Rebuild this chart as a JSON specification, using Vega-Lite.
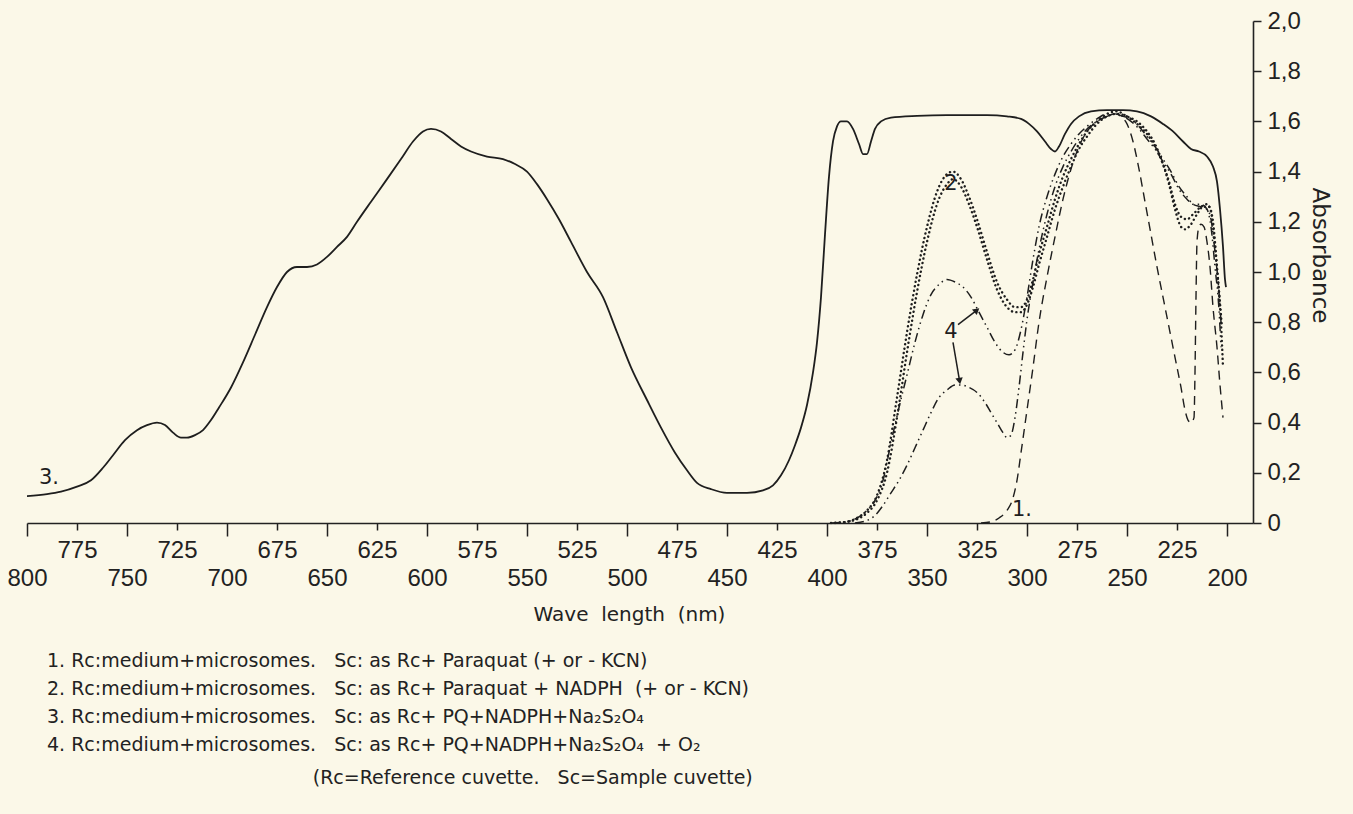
{
  "$schema": "https://vega.github.io/schema/vega-lite/v6.json",
  "width": 1226,
  "height": 502,
  "autosize": {"type": "none"},
  "padding": {"left": 27, "top": 21, "right": 100, "bottom": 291},
  "background": "#fbf8e8",
  "config": {
    "view": {"stroke": null},
    "font": "Liberation Sans, DejaVu Sans, sans-serif",
    "text": {"font": "Liberation Sans, DejaVu Sans, sans-serif"}
  },
  "title": {
    "text": [
      "1. Rc:medium+microsomes.\u00a0\u00a0 Sc: as Rc+ Paraquat (+ or - KCN)",
      "2. Rc:medium+microsomes.\u00a0\u00a0 Sc: as Rc+ Paraquat + NADPH\u00a0 (+ or - KCN)",
      "3. Rc:medium+microsomes.\u00a0\u00a0 Sc: as Rc+ PQ+NADPH+Na\u2082S\u2082O\u2084",
      "4. Rc:medium+microsomes.\u00a0\u00a0 Sc: as Rc+ PQ+NADPH+Na\u2082S\u2082O\u2084\u00a0 + O\u2082"
    ],
    "subtitle": "\u200b\u00a0\u00a0\u00a0\u00a0\u00a0\u00a0\u00a0\u00a0\u00a0\u00a0\u00a0\u00a0\u00a0\u00a0\u00a0\u00a0\u00a0\u00a0\u00a0\u00a0\u00a0\u00a0\u00a0\u00a0\u00a0\u00a0\u00a0\u00a0\u00a0\u00a0\u00a0\u00a0\u00a0\u00a0\u00a0\u00a0\u00a0\u00a0\u00a0\u00a0\u00a0\u00a0\u00a0\u00a0(Rc=Reference cuvette.\u00a0\u00a0 Sc=Sample cuvette)",
    "orient": "bottom",
    "anchor": "start",
    "frame": "group",
    "align": "left",
    "dx": 20,
    "offset": 28,
    "font": "DejaVu Sans, Liberation Sans, sans-serif",
    "fontSize": 19,
    "fontWeight": "normal",
    "color": "#222222",
    "lineHeight": 28,
    "subtitleFont": "DejaVu Sans, Liberation Sans, sans-serif",
    "subtitleFontSize": 19,
    "subtitleColor": "#222222",
    "subtitlePadding": 14
  },
  "datasets": {
    "curves": [
      {"s": "3", "nm": 800, "a": 0.107}, {"s": "3", "nm": 790, "a": 0.115}, {"s": "3", "nm": 783, "a": 0.125},
      {"s": "3", "nm": 775, "a": 0.145}, {"s": "3", "nm": 768, "a": 0.17}, {"s": "3", "nm": 762, "a": 0.22},
      {"s": "3", "nm": 757, "a": 0.27}, {"s": "3", "nm": 751, "a": 0.33}, {"s": "3", "nm": 745, "a": 0.37},
      {"s": "3", "nm": 740, "a": 0.39}, {"s": "3", "nm": 735, "a": 0.4}, {"s": "3", "nm": 731, "a": 0.39},
      {"s": "3", "nm": 727, "a": 0.36}, {"s": "3", "nm": 723, "a": 0.34}, {"s": "3", "nm": 720, "a": 0.34},
      {"s": "3", "nm": 716, "a": 0.35}, {"s": "3", "nm": 712, "a": 0.37}, {"s": "3", "nm": 708, "a": 0.41},
      {"s": "3", "nm": 704, "a": 0.46}, {"s": "3", "nm": 698, "a": 0.54}, {"s": "3", "nm": 692, "a": 0.64},
      {"s": "3", "nm": 686, "a": 0.75}, {"s": "3", "nm": 680, "a": 0.86}, {"s": "3", "nm": 675, "a": 0.94},
      {"s": "3", "nm": 670, "a": 1.0}, {"s": "3", "nm": 665, "a": 1.02}, {"s": "3", "nm": 660, "a": 1.02},
      {"s": "3", "nm": 655, "a": 1.03}, {"s": "3", "nm": 650, "a": 1.06}, {"s": "3", "nm": 645, "a": 1.1},
      {"s": "3", "nm": 640, "a": 1.14}, {"s": "3", "nm": 635, "a": 1.2}, {"s": "3", "nm": 628, "a": 1.28},
      {"s": "3", "nm": 620, "a": 1.37}, {"s": "3", "nm": 613, "a": 1.45}, {"s": "3", "nm": 607, "a": 1.52},
      {"s": "3", "nm": 602, "a": 1.56}, {"s": "3", "nm": 598, "a": 1.57}, {"s": "3", "nm": 593, "a": 1.56},
      {"s": "3", "nm": 588, "a": 1.53}, {"s": "3", "nm": 583, "a": 1.5}, {"s": "3", "nm": 578, "a": 1.48},
      {"s": "3", "nm": 570, "a": 1.46}, {"s": "3", "nm": 562, "a": 1.45}, {"s": "3", "nm": 556, "a": 1.43},
      {"s": "3", "nm": 550, "a": 1.4}, {"s": "3", "nm": 545, "a": 1.35}, {"s": "3", "nm": 540, "a": 1.29},
      {"s": "3", "nm": 534, "a": 1.21}, {"s": "3", "nm": 528, "a": 1.12}, {"s": "3", "nm": 520, "a": 1.0},
      {"s": "3", "nm": 512, "a": 0.9}, {"s": "3", "nm": 505, "a": 0.76}, {"s": "3", "nm": 498, "a": 0.62},
      {"s": "3", "nm": 490, "a": 0.49}, {"s": "3", "nm": 483, "a": 0.38}, {"s": "3", "nm": 476, "a": 0.28},
      {"s": "3", "nm": 470, "a": 0.21}, {"s": "3", "nm": 465, "a": 0.16}, {"s": "3", "nm": 458, "a": 0.135},
      {"s": "3", "nm": 450, "a": 0.12}, {"s": "3", "nm": 440, "a": 0.12}, {"s": "3", "nm": 432, "a": 0.13},
      {"s": "3", "nm": 427, "a": 0.15}, {"s": "3", "nm": 423, "a": 0.19}, {"s": "3", "nm": 419, "a": 0.25},
      {"s": "3", "nm": 416, "a": 0.31}, {"s": "3", "nm": 413, "a": 0.38}, {"s": "3", "nm": 410, "a": 0.47},
      {"s": "3", "nm": 407, "a": 0.6}, {"s": "3", "nm": 405, "a": 0.72}, {"s": "3", "nm": 403, "a": 0.9},
      {"s": "3", "nm": 401, "a": 1.15}, {"s": "3", "nm": 399, "a": 1.38}, {"s": "3", "nm": 397, "a": 1.52},
      {"s": "3", "nm": 395, "a": 1.58}, {"s": "3", "nm": 393, "a": 1.6}, {"s": "3", "nm": 390, "a": 1.6},
      {"s": "3", "nm": 387, "a": 1.57}, {"s": "3", "nm": 384, "a": 1.51}, {"s": "3", "nm": 382, "a": 1.47},
      {"s": "3", "nm": 380, "a": 1.47}, {"s": "3", "nm": 378, "a": 1.52}, {"s": "3", "nm": 376, "a": 1.57},
      {"s": "3", "nm": 373, "a": 1.6}, {"s": "3", "nm": 368, "a": 1.615}, {"s": "3", "nm": 355, "a": 1.622},
      {"s": "3", "nm": 340, "a": 1.625}, {"s": "3", "nm": 320, "a": 1.625}, {"s": "3", "nm": 310, "a": 1.62},
      {"s": "3", "nm": 303, "a": 1.61}, {"s": "3", "nm": 299, "a": 1.59}, {"s": "3", "nm": 295, "a": 1.56},
      {"s": "3", "nm": 291, "a": 1.52}, {"s": "3", "nm": 288, "a": 1.49}, {"s": "3", "nm": 286, "a": 1.48},
      {"s": "3", "nm": 284, "a": 1.5}, {"s": "3", "nm": 281, "a": 1.55}, {"s": "3", "nm": 278, "a": 1.59},
      {"s": "3", "nm": 274, "a": 1.62}, {"s": "3", "nm": 268, "a": 1.64}, {"s": "3", "nm": 260, "a": 1.645},
      {"s": "3", "nm": 252, "a": 1.645}, {"s": "3", "nm": 245, "a": 1.64}, {"s": "3", "nm": 238, "a": 1.62},
      {"s": "3", "nm": 232, "a": 1.59}, {"s": "3", "nm": 227, "a": 1.56}, {"s": "3", "nm": 222, "a": 1.52},
      {"s": "3", "nm": 218, "a": 1.49}, {"s": "3", "nm": 214, "a": 1.48}, {"s": "3", "nm": 210, "a": 1.46},
      {"s": "3", "nm": 207, "a": 1.42}, {"s": "3", "nm": 205, "a": 1.36}, {"s": "3", "nm": 203.5, "a": 1.25},
      {"s": "3", "nm": 202, "a": 1.1}, {"s": "3", "nm": 201, "a": 0.97}, {"s": "3", "nm": 200.5, "a": 0.94},

      {"s": "1", "nm": 323, "a": 0.0}, {"s": "1", "nm": 318, "a": 0.005}, {"s": "1", "nm": 314, "a": 0.02},
      {"s": "1", "nm": 310, "a": 0.05}, {"s": "1", "nm": 307, "a": 0.1}, {"s": "1", "nm": 305, "a": 0.17},
      {"s": "1", "nm": 303, "a": 0.28}, {"s": "1", "nm": 300, "a": 0.45}, {"s": "1", "nm": 297, "a": 0.62},
      {"s": "1", "nm": 294, "a": 0.8}, {"s": "1", "nm": 290, "a": 0.98}, {"s": "1", "nm": 286, "a": 1.14},
      {"s": "1", "nm": 282, "a": 1.29}, {"s": "1", "nm": 278, "a": 1.41}, {"s": "1", "nm": 274, "a": 1.5},
      {"s": "1", "nm": 270, "a": 1.56}, {"s": "1", "nm": 265, "a": 1.6}, {"s": "1", "nm": 260, "a": 1.62},
      {"s": "1", "nm": 256, "a": 1.63}, {"s": "1", "nm": 253, "a": 1.62}, {"s": "1", "nm": 250, "a": 1.59},
      {"s": "1", "nm": 247, "a": 1.52}, {"s": "1", "nm": 244, "a": 1.41}, {"s": "1", "nm": 241, "a": 1.28},
      {"s": "1", "nm": 238, "a": 1.15}, {"s": "1", "nm": 235, "a": 1.02}, {"s": "1", "nm": 232, "a": 0.9},
      {"s": "1", "nm": 229, "a": 0.78}, {"s": "1", "nm": 226, "a": 0.66}, {"s": "1", "nm": 223, "a": 0.54},
      {"s": "1", "nm": 221, "a": 0.45}, {"s": "1", "nm": 219.5, "a": 0.41}, {"s": "1", "nm": 218, "a": 0.4},
      {"s": "1", "nm": 216.5, "a": 0.42}, {"s": "1", "nm": 216, "a": 0.6}, {"s": "1", "nm": 215.5, "a": 0.9},
      {"s": "1", "nm": 215, "a": 1.12}, {"s": "1", "nm": 214, "a": 1.18}, {"s": "1", "nm": 213, "a": 1.19},
      {"s": "1", "nm": 211.5, "a": 1.18}, {"s": "1", "nm": 210, "a": 1.12}, {"s": "1", "nm": 208.5, "a": 1.02},
      {"s": "1", "nm": 207, "a": 0.86}, {"s": "1", "nm": 205, "a": 0.7}, {"s": "1", "nm": 203.5, "a": 0.55},
      {"s": "1", "nm": 202, "a": 0.42},

      {"s": "2a", "nm": 398, "a": 0.0}, {"s": "2a", "nm": 390, "a": 0.005}, {"s": "2a", "nm": 385, "a": 0.02},
      {"s": "2a", "nm": 380, "a": 0.05}, {"s": "2a", "nm": 375, "a": 0.11}, {"s": "2a", "nm": 370, "a": 0.25},
      {"s": "2a", "nm": 365, "a": 0.5}, {"s": "2a", "nm": 360, "a": 0.76}, {"s": "2a", "nm": 355, "a": 0.99},
      {"s": "2a", "nm": 350, "a": 1.18}, {"s": "2a", "nm": 345, "a": 1.32}, {"s": "2a", "nm": 340, "a": 1.39},
      {"s": "2a", "nm": 337, "a": 1.4}, {"s": "2a", "nm": 333, "a": 1.37}, {"s": "2a", "nm": 329, "a": 1.3},
      {"s": "2a", "nm": 325, "a": 1.21}, {"s": "2a", "nm": 320, "a": 1.08}, {"s": "2a", "nm": 315, "a": 0.96},
      {"s": "2a", "nm": 310, "a": 0.89}, {"s": "2a", "nm": 306, "a": 0.86}, {"s": "2a", "nm": 303, "a": 0.86},
      {"s": "2a", "nm": 300, "a": 0.89}, {"s": "2a", "nm": 297, "a": 0.97}, {"s": "2a", "nm": 294, "a": 1.07},
      {"s": "2a", "nm": 290, "a": 1.18}, {"s": "2a", "nm": 286, "a": 1.29}, {"s": "2a", "nm": 282, "a": 1.38},
      {"s": "2a", "nm": 278, "a": 1.45}, {"s": "2a", "nm": 274, "a": 1.51}, {"s": "2a", "nm": 270, "a": 1.56},
      {"s": "2a", "nm": 265, "a": 1.6}, {"s": "2a", "nm": 260, "a": 1.63}, {"s": "2a", "nm": 255, "a": 1.64},
      {"s": "2a", "nm": 250, "a": 1.62}, {"s": "2a", "nm": 245, "a": 1.6}, {"s": "2a", "nm": 240, "a": 1.56},
      {"s": "2a", "nm": 236, "a": 1.51}, {"s": "2a", "nm": 232, "a": 1.43}, {"s": "2a", "nm": 229, "a": 1.35},
      {"s": "2a", "nm": 226, "a": 1.25}, {"s": "2a", "nm": 223, "a": 1.18}, {"s": "2a", "nm": 221, "a": 1.17},
      {"s": "2a", "nm": 218, "a": 1.19}, {"s": "2a", "nm": 215, "a": 1.23}, {"s": "2a", "nm": 212, "a": 1.26},
      {"s": "2a", "nm": 209, "a": 1.26}, {"s": "2a", "nm": 207, "a": 1.2}, {"s": "2a", "nm": 205, "a": 1.02},
      {"s": "2a", "nm": 203, "a": 0.8}, {"s": "2a", "nm": 202, "a": 0.62},

      {"s": "2b", "nm": 396, "a": 0.0}, {"s": "2b", "nm": 390, "a": 0.005}, {"s": "2b", "nm": 385, "a": 0.015},
      {"s": "2b", "nm": 380, "a": 0.04}, {"s": "2b", "nm": 375, "a": 0.09}, {"s": "2b", "nm": 370, "a": 0.2},
      {"s": "2b", "nm": 365, "a": 0.42}, {"s": "2b", "nm": 360, "a": 0.68}, {"s": "2b", "nm": 355, "a": 0.92},
      {"s": "2b", "nm": 350, "a": 1.12}, {"s": "2b", "nm": 345, "a": 1.27}, {"s": "2b", "nm": 340, "a": 1.35},
      {"s": "2b", "nm": 337, "a": 1.37}, {"s": "2b", "nm": 333, "a": 1.34}, {"s": "2b", "nm": 329, "a": 1.27},
      {"s": "2b", "nm": 325, "a": 1.18}, {"s": "2b", "nm": 320, "a": 1.05}, {"s": "2b", "nm": 315, "a": 0.93},
      {"s": "2b", "nm": 310, "a": 0.86}, {"s": "2b", "nm": 306, "a": 0.84}, {"s": "2b", "nm": 303, "a": 0.84},
      {"s": "2b", "nm": 300, "a": 0.87}, {"s": "2b", "nm": 297, "a": 0.94}, {"s": "2b", "nm": 294, "a": 1.03},
      {"s": "2b", "nm": 290, "a": 1.14}, {"s": "2b", "nm": 286, "a": 1.25}, {"s": "2b", "nm": 282, "a": 1.34},
      {"s": "2b", "nm": 278, "a": 1.42}, {"s": "2b", "nm": 274, "a": 1.49}, {"s": "2b", "nm": 270, "a": 1.54},
      {"s": "2b", "nm": 265, "a": 1.59}, {"s": "2b", "nm": 260, "a": 1.62}, {"s": "2b", "nm": 255, "a": 1.63},
      {"s": "2b", "nm": 250, "a": 1.62}, {"s": "2b", "nm": 245, "a": 1.59}, {"s": "2b", "nm": 240, "a": 1.55},
      {"s": "2b", "nm": 236, "a": 1.5}, {"s": "2b", "nm": 232, "a": 1.43}, {"s": "2b", "nm": 229, "a": 1.36},
      {"s": "2b", "nm": 226, "a": 1.27}, {"s": "2b", "nm": 223, "a": 1.22}, {"s": "2b", "nm": 220, "a": 1.21},
      {"s": "2b", "nm": 217, "a": 1.23}, {"s": "2b", "nm": 213, "a": 1.26}, {"s": "2b", "nm": 210, "a": 1.27},
      {"s": "2b", "nm": 208, "a": 1.24}, {"s": "2b", "nm": 206, "a": 1.1}, {"s": "2b", "nm": 204, "a": 0.92},
      {"s": "2b", "nm": 202.5, "a": 0.78},

      {"s": "4a", "nm": 398, "a": 0.0}, {"s": "4a", "nm": 390, "a": 0.005}, {"s": "4a", "nm": 385, "a": 0.02},
      {"s": "4a", "nm": 380, "a": 0.05}, {"s": "4a", "nm": 376, "a": 0.09}, {"s": "4a", "nm": 372, "a": 0.17},
      {"s": "4a", "nm": 368, "a": 0.32}, {"s": "4a", "nm": 364, "a": 0.46}, {"s": "4a", "nm": 360, "a": 0.59},
      {"s": "4a", "nm": 356, "a": 0.72}, {"s": "4a", "nm": 352, "a": 0.83}, {"s": "4a", "nm": 348, "a": 0.91},
      {"s": "4a", "nm": 344, "a": 0.95}, {"s": "4a", "nm": 340, "a": 0.97}, {"s": "4a", "nm": 336, "a": 0.96},
      {"s": "4a", "nm": 332, "a": 0.94}, {"s": "4a", "nm": 328, "a": 0.9}, {"s": "4a", "nm": 324, "a": 0.84},
      {"s": "4a", "nm": 320, "a": 0.78}, {"s": "4a", "nm": 316, "a": 0.72}, {"s": "4a", "nm": 312, "a": 0.68},
      {"s": "4a", "nm": 309, "a": 0.67}, {"s": "4a", "nm": 306, "a": 0.69}, {"s": "4a", "nm": 303, "a": 0.77},
      {"s": "4a", "nm": 300, "a": 0.9}, {"s": "4a", "nm": 297, "a": 1.05}, {"s": "4a", "nm": 294, "a": 1.18},
      {"s": "4a", "nm": 290, "a": 1.3}, {"s": "4a", "nm": 286, "a": 1.39}, {"s": "4a", "nm": 282, "a": 1.46},
      {"s": "4a", "nm": 278, "a": 1.51}, {"s": "4a", "nm": 274, "a": 1.55}, {"s": "4a", "nm": 270, "a": 1.58},
      {"s": "4a", "nm": 265, "a": 1.61}, {"s": "4a", "nm": 260, "a": 1.63}, {"s": "4a", "nm": 256, "a": 1.63},
      {"s": "4a", "nm": 252, "a": 1.62}, {"s": "4a", "nm": 248, "a": 1.61}, {"s": "4a", "nm": 244, "a": 1.58},
      {"s": "4a", "nm": 240, "a": 1.54}, {"s": "4a", "nm": 236, "a": 1.5}, {"s": "4a", "nm": 232, "a": 1.45},
      {"s": "4a", "nm": 228, "a": 1.4}, {"s": "4a", "nm": 224, "a": 1.34}, {"s": "4a", "nm": 220, "a": 1.3},
      {"s": "4a", "nm": 217, "a": 1.27}, {"s": "4a", "nm": 213, "a": 1.26}, {"s": "4a", "nm": 210, "a": 1.25},
      {"s": "4a", "nm": 208, "a": 1.21}, {"s": "4a", "nm": 206, "a": 1.08}, {"s": "4a", "nm": 204, "a": 0.92},
      {"s": "4a", "nm": 203, "a": 0.8},

      {"s": "4b", "nm": 386, "a": 0.0}, {"s": "4b", "nm": 380, "a": 0.01}, {"s": "4b", "nm": 376, "a": 0.03},
      {"s": "4b", "nm": 372, "a": 0.07}, {"s": "4b", "nm": 368, "a": 0.12}, {"s": "4b", "nm": 364, "a": 0.17},
      {"s": "4b", "nm": 360, "a": 0.23}, {"s": "4b", "nm": 356, "a": 0.3}, {"s": "4b", "nm": 352, "a": 0.37},
      {"s": "4b", "nm": 348, "a": 0.44}, {"s": "4b", "nm": 344, "a": 0.5}, {"s": "4b", "nm": 340, "a": 0.53},
      {"s": "4b", "nm": 336, "a": 0.55}, {"s": "4b", "nm": 333, "a": 0.55}, {"s": "4b", "nm": 329, "a": 0.54},
      {"s": "4b", "nm": 325, "a": 0.52}, {"s": "4b", "nm": 321, "a": 0.48}, {"s": "4b", "nm": 318, "a": 0.44},
      {"s": "4b", "nm": 315, "a": 0.4}, {"s": "4b", "nm": 312, "a": 0.36}, {"s": "4b", "nm": 310, "a": 0.34},
      {"s": "4b", "nm": 308, "a": 0.35}, {"s": "4b", "nm": 306, "a": 0.42}, {"s": "4b", "nm": 304, "a": 0.54},
      {"s": "4b", "nm": 302, "a": 0.68}, {"s": "4b", "nm": 300, "a": 0.81}, {"s": "4b", "nm": 297, "a": 0.96},
      {"s": "4b", "nm": 294, "a": 1.09}, {"s": "4b", "nm": 290, "a": 1.23}, {"s": "4b", "nm": 286, "a": 1.34},
      {"s": "4b", "nm": 282, "a": 1.42}, {"s": "4b", "nm": 278, "a": 1.48}, {"s": "4b", "nm": 274, "a": 1.53},
      {"s": "4b", "nm": 270, "a": 1.57}, {"s": "4b", "nm": 265, "a": 1.6}, {"s": "4b", "nm": 260, "a": 1.62},
      {"s": "4b", "nm": 256, "a": 1.63}, {"s": "4b", "nm": 252, "a": 1.62}, {"s": "4b", "nm": 248, "a": 1.6},
      {"s": "4b", "nm": 244, "a": 1.57}, {"s": "4b", "nm": 240, "a": 1.53}, {"s": "4b", "nm": 236, "a": 1.49},
      {"s": "4b", "nm": 232, "a": 1.44}, {"s": "4b", "nm": 228, "a": 1.39}, {"s": "4b", "nm": 224, "a": 1.33},
      {"s": "4b", "nm": 220, "a": 1.29}, {"s": "4b", "nm": 217, "a": 1.27}, {"s": "4b", "nm": 213, "a": 1.27},
      {"s": "4b", "nm": 210, "a": 1.25}, {"s": "4b", "nm": 208, "a": 1.18}, {"s": "4b", "nm": 206, "a": 1.02},
      {"s": "4b", "nm": 204, "a": 0.85}, {"s": "4b", "nm": 203, "a": 0.7}
    ],
    "notes": [
      {"nm": 789, "a": 0.18, "label": "3."},
      {"nm": 338, "a": 1.35, "label": "2"},
      {"nm": 338, "a": 0.76, "label": "4"},
      {"nm": 302.5, "a": 0.05, "label": "1."}
    ],
    "arrows": [
      {"id": 1, "nm": 334.5, "a": 0.79, "nm2": 325.5, "a2": 0.845},
      {"id": 2, "nm": 337, "a": 0.72, "nm2": 333.8, "a2": 0.57}
    ]
  },
  "encoding": {
    "x": {
      "field": "nm",
      "type": "quantitative",
      "scale": {"domain": [187, 800], "reverse": true, "nice": false, "zero": false},
      "axis": {
        "orient": "bottom",
        "title": "Wave\u00a0 length\u00a0 (nm)",
        "values": [800, 775, 750, 725, 700, 675, 650, 625, 600, 575, 550, 525, 500, 475, 450, 425, 400, 375, 350, 325, 300, 275, 250, 225, 200],
        "format": "d",
        "grid": false,
        "domainColor": "#222222",
        "domainWidth": 1.6,
        "tickColor": "#222222",
        "tickWidth": 1.5,
        "tickSize": {"condition": {"test": "datum.value % 50 === 0", "value": 13}, "value": 7},
        "labelPadding": {"condition": {"test": "datum.value % 50 === 0", "value": 30}, "value": 8},
        "labelFontSize": 24,
        "labelColor": "#222222",
        "labelFlush": false,
        "labelOverlap": false,
        "labelBound": false,
        "titleFont": "DejaVu Sans, Liberation Sans, sans-serif",
        "titleFontSize": 20,
        "titleFontWeight": "normal",
        "titleColor": "#222222",
        "titleX": 602,
        "titleY": 97,
        "titleAlign": "center",
        "titleBaseline": "alphabetic"
      }
    },
    "y": {
      "field": "a",
      "type": "quantitative",
      "scale": {"domain": [0, 2], "nice": false, "zero": true},
      "axis": {
        "orient": "right",
        "title": "Absorbance",
        "values": [0, 0.2, 0.4, 0.6, 0.8, 1.0, 1.2, 1.4, 1.6, 1.8, 2.0],
        "labelExpr": "datum.value === 0 ? '0' : replace(format(datum.value, '.1f'), '.', ',')",
        "grid": false,
        "domainColor": "#222222",
        "domainWidth": 1.6,
        "tickColor": "#222222",
        "tickWidth": 1.5,
        "tickSize": 8,
        "labelPadding": 6,
        "labelFontSize": 24,
        "labelColor": "#222222",
        "labelFlush": false,
        "labelOverlap": false,
        "titleFont": "DejaVu Sans, Liberation Sans, sans-serif",
        "titleFontSize": 23,
        "titleFontWeight": "normal",
        "titleColor": "#222222",
        "titleAngle": 90,
        "titleX": 66,
        "titleY": 234,
        "titleAlign": "center",
        "titleBaseline": "middle"
      }
    }
  },
  "layer": [
    {
      "data": {"name": "curves"},
      "transform": [{"filter": "datum.s === '3'"}],
      "mark": {"type": "line", "interpolate": "monotone", "stroke": "#1e1e1e", "strokeWidth": 1.8}
    },
    {
      "data": {"name": "curves"},
      "transform": [{"filter": "datum.s === '1'"}],
      "mark": {"type": "line", "interpolate": "monotone", "stroke": "#1e1e1e", "strokeWidth": 1.4, "strokeDash": [9, 6]}
    },
    {
      "data": {"name": "curves"},
      "transform": [{"filter": "datum.s === '2a' || datum.s === '2b'"}],
      "mark": {"type": "line", "interpolate": "monotone", "stroke": "#1e1e1e", "strokeWidth": 2.4, "strokeDash": [0.1, 4.4], "strokeCap": "round"},
      "encoding": {"detail": {"field": "s"}}
    },
    {
      "data": {"name": "curves"},
      "transform": [{"filter": "datum.s === '4a' || datum.s === '4b'"}],
      "mark": {"type": "line", "interpolate": "monotone", "stroke": "#1e1e1e", "strokeWidth": 1.5, "strokeDash": [9, 4, 1.5, 4, 1.5, 4]},
      "encoding": {"detail": {"field": "s"}}
    },
    {
      "data": {"name": "notes"},
      "mark": {"type": "text", "fontSize": 21, "font": "DejaVu Sans, Liberation Sans, sans-serif", "color": "#1e1e1e", "align": "center", "baseline": "middle"},
      "encoding": {"text": {"field": "label"}}
    },
    {
      "data": {"name": "arrows"},
      "mark": {"type": "rule", "stroke": "#1e1e1e", "strokeWidth": 1.5},
      "encoding": {"x2": {"field": "nm2"}, "y2": {"field": "a2"}}
    },
    {
      "data": {"name": "arrows"},
      "transform": [{"filter": "datum.id === 1"}],
      "mark": {"type": "point", "shape": "triangle", "filled": true, "color": "#1e1e1e", "size": 55, "angle": 50, "opacity": 1},
      "encoding": {"x": {"field": "nm2", "type": "quantitative"}, "y": {"field": "a2", "type": "quantitative"}}
    },
    {
      "data": {"name": "arrows"},
      "transform": [{"filter": "datum.id === 2"}],
      "mark": {"type": "point", "shape": "triangle", "filled": true, "color": "#1e1e1e", "size": 55, "angle": 170, "opacity": 1},
      "encoding": {"x": {"field": "nm2", "type": "quantitative"}, "y": {"field": "a2", "type": "quantitative"}}
    }
  ]
}
